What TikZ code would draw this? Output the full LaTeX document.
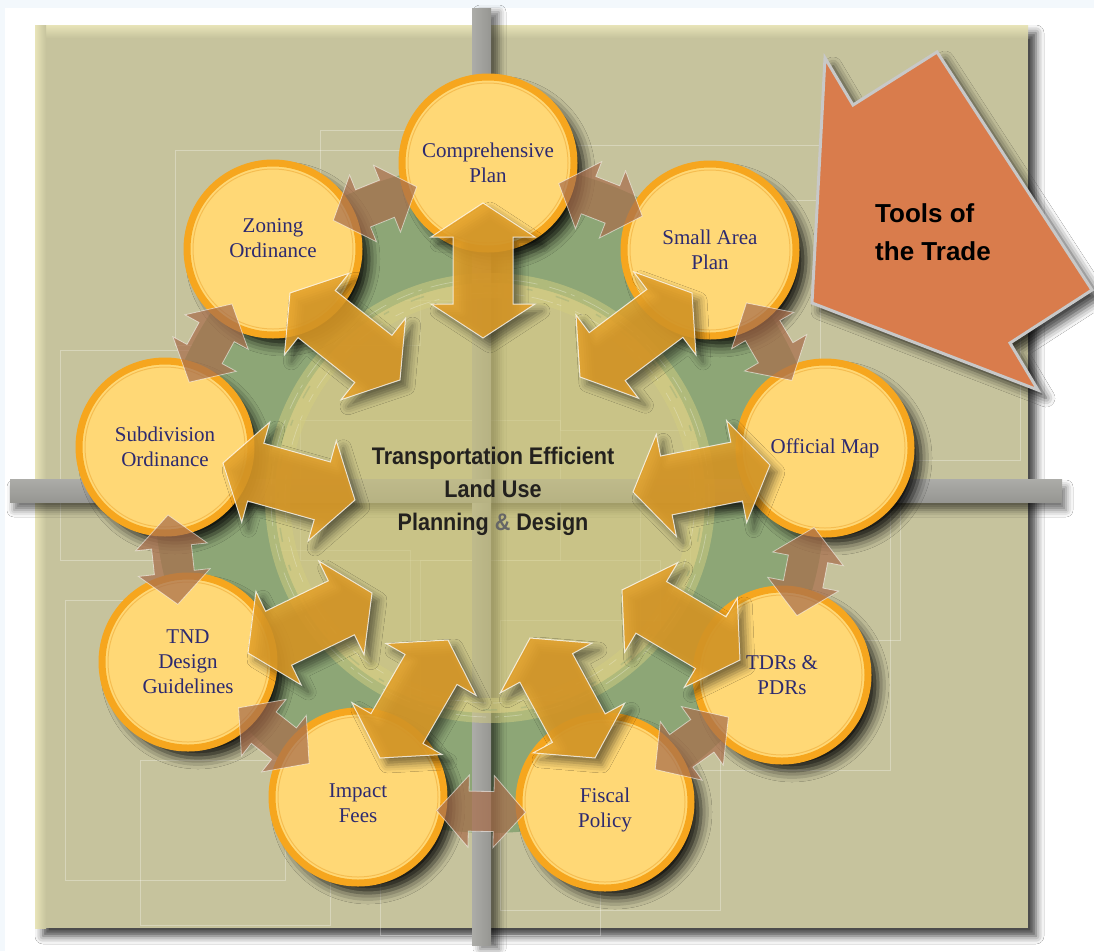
\documentclass[tikz,border=0pt]{standalone}
\usepackage{fontspec}
\setmainfont{Liberation Serif}
\newfontfamily\hdfont[FakeStretch=0.9]{Liberation Sans}
\newfontfamily\toolfont{Liberation Sans}
\usetikzlibrary{calc,shadows.blur}
\definecolor{khaki}{RGB}{198,195,157}
\definecolor{khakilight}{RGB}{232,228,184}
\definecolor{ringgreen}{RGB}{141,166,118}
\definecolor{innerdisk}{RGB}{203,196,122}
\definecolor{brushc}{RGB}{212,206,128}
\definecolor{barlight}{RGB}{172,172,168}
\definecolor{bardark}{RGB}{150,150,146}
\definecolor{circfill}{RGB}{255,216,118}
\definecolor{circedge}{RGB}{246,166,30}
\definecolor{labelc}{RGB}{45,42,112}
\definecolor{bigorange}{RGB}{228,160,40}
\definecolor{brownarr}{RGB}{168,110,76}
\definecolor{toolfill}{RGB}{217,124,76}
\definecolor{tooledge}{RGB}{200,200,200}
\definecolor{pageblue}{RGB}{243,248,252}
\definecolor{txtdark}{RGB}{35,33,30}

\newcommand\dblarrow[6]{%
  \draw[#1] let \p1=($(#3)-(#2)$), \n1={atan2(\y1,\x1)} in
    (#2) -- ($(#2)+(\n1:#4)+(\n1+90:#5)$) -- ($(#2)+(\n1:#4)+(\n1+90:#6)$)
    -- ($(#3)+(\n1+180:#4)+(\n1+90:#6)$) -- ($(#3)+(\n1+180:#4)+(\n1+90:#5)$)
    -- (#3) -- ($(#3)+(\n1+180:#4)+(\n1-90:#5)$) -- ($(#3)+(\n1+180:#4)+(\n1-90:#6)$)
    -- ($(#2)+(\n1:#4)+(\n1-90:#6)$) -- ($(#2)+(\n1:#4)+(\n1-90:#5)$) -- cycle;}

\begin{document}
\begin{tikzpicture}[x=1pt,y=-1pt,
  tool/.style={circle, minimum size=172pt, inner sep=0pt, fill=circfill, draw=circedge,
    line width=7pt, text=labelc, align=center, font=\fontsize{21}{25}\selectfont,
    blur shadow={shadow xshift=10pt,shadow yshift=-10pt,shadow blur radius=11pt,
      shadow opacity=90}},
  bigarrow/.style={fill=bigorange, fill opacity=0.85, draw=white, draw opacity=0.75,
    line width=1pt, line join=miter,
    blur shadow={shadow xshift=7pt,shadow yshift=-7pt,shadow blur radius=8pt,shadow opacity=50}},
  brownarrow/.style={fill=brownarr, fill opacity=0.72, draw=white, draw opacity=0.55,
    line width=0.8pt, line join=miter},
  gridline/.style={draw=white, draw opacity=0.3, line width=0.8pt},
  toolarrow/.style={fill=toolfill, draw=tooledge, line width=3pt, line join=miter,
    blur shadow={shadow xshift=8pt,shadow yshift=-8pt,shadow blur radius=9pt,shadow opacity=75}}]

\useasboundingbox (0,0) rectangle (1094,951);
% page
\fill[white] (0,0) rectangle (1094,951);
\fill[pageblue] (0,0) rectangle (1094,8);
\fill[pageblue] (0,0) rectangle (5,951);

% khaki board
\fill[khaki, blur shadow={shadow xshift=8pt,shadow yshift=-8pt,shadow blur radius=8pt,shadow opacity=75}] (35,25) rectangle (1028,928);
\shade[top color=khakilight, bottom color=khaki] (35,25) rectangle (1028,38);
\shade[left color=khakilight, right color=khaki] (35,25) rectangle (46,928);

% faint grid rectangles
\foreach \ga/\gb/\gc/\gd in {175/150/420/345, 320/130/470/300, 60/350/270/560, 65/600/285/880,
  230/550/410/730, 500/620/720/910, 640/505/890/770, 560/145/820/430, 690/440/900/640,
  380/700/600/935, 740/200/1020/460, 140/760/330/925, 300/420/560/560, 420/560/660/700}
  \draw[gridline] (\ga,\gb) rectangle (\gc,\gd);

% green ring
\fill[ringgreen, even odd rule] (490,498) circle (335) (490,498) circle (215);

% gray cross bars
\shade[top color=barlight, bottom color=bardark,
  blur shadow={shadow xshift=4pt,shadow yshift=-8pt,shadow blur radius=7pt,shadow opacity=55}]
  (10,479) rectangle (1062,502);
\shade[left color=barlight, right color=bardark,
  blur shadow={shadow xshift=8pt,shadow yshift=-4pt,shadow blur radius=7pt,shadow opacity=55}]
  (472,8) rectangle (491,945);
\shade[top color=barlight, bottom color=bardark] (472,479) rectangle (491,502);

% inner disk and brush band
\fill[innerdisk, opacity=0.62] (490,498) circle (215);
\fill[brushc, opacity=0.5, even odd rule] (490,498) circle (225) (490,498) circle (200);
\draw[white, opacity=0.3, line width=0.7pt, dash pattern=on 18pt off 5pt on 4pt off 9pt on 30pt off 12pt] (490,498) circle (219);
\draw[white, opacity=0.25, line width=0.7pt, dash pattern=on 9pt off 7pt on 22pt off 4pt on 5pt off 15pt] (490,498) circle (205);
\draw[ringgreen, opacity=0.35, line width=1.5pt, dash pattern=on 6pt off 24pt on 14pt off 30pt] (490,498) circle (212);

% centre text
\node[inner sep=0pt, align=center, text=txtdark, font=\hdfont\bfseries\fontsize{24}{33}\selectfont]
  (hub) at (493,491) {Transportation Efficient\\Land Use\\Planning {\color{black!60}\&} Design};

% tool circles
\node[tool] (comp) at (488,163) {Comprehensive\\Plan};
\node[tool] (small) at (710,250) {Small Area\\Plan};
\node[tool] (offm) at (825,448) {Official Map};
\node[tool] (tdr) at (782,675) {TDRs \&\\PDRs};
\node[tool] (fisc) at (605,802) {\rule{0pt}{30pt}Fiscal\\Policy};
\node[tool] (imp) at (358,797) {\rule{0pt}{26pt}Impact\\Fees};
\node[tool] (tnd) at (188,662) {TND\\Design\\Guidelines};
\node[tool] (subd) at (165,447) {Subdivision\\Ordinance};
\node[tool] (zon) at (273,249) {Zoning\\Ordinance\\[-4pt]\mbox{}};
\foreach \nm in {comp,small,offm,tdr,fisc,imp,tnd,subd,zon}
  \draw[circedge!80!brown, opacity=0.45, line width=1pt] (\nm.center) circle (80);

% big double arrows (circle <-> centre)
\coordinate (cA) at (483,203);  \coordinate (cB) at (483,338);
\coordinate (sA) at (692,293);  \coordinate (sB) at (580,377);
\coordinate (oA) at (770,465);  \coordinate (oB) at (633,492);
\coordinate (tA) at (740,660);  \coordinate (tB) at (622,590);
\coordinate (fA) at (595,758);  \coordinate (fB) at (530,638);
\coordinate (iA) at (380,758);  \coordinate (iB) at (448,640);
\coordinate (nA) at (248,653);  \coordinate (nB) at (372,593);
\coordinate (dA) at (223,463);  \coordinate (dB) at (355,500);
\coordinate (zA) at (290,293);  \coordinate (zB) at (400,380);
\foreach \w in {c,s,o,t,f,i,n,d,z}
  {\dblarrow{bigarrow}{\w A}{\w B}{34pt}{52pt}{30pt}}

% small brown arrows between neighbouring circles
\foreach \k/\cu/\cv/\mx/\my in {1/comp/zon/374/201, 2/comp/small/602/196, 3/small/offm/772/340,
   4/offm/tdr/808/572, 5/tdr/fisc/693/745, 6/fisc/imp/481/818, 7/imp/tnd/272/738,
   8/tnd/subd/170/560, 9/subd/zon/205/340}
  {\coordinate (m\k) at (\mx,\my);
   \coordinate (u\k) at ($(m\k)!45pt!(\cu.center)$);
   \coordinate (v\k) at ($(m\k)!45pt!(\cv.center)$);
   \dblarrow{brownarrow}{u\k}{v\k}{32pt}{36pt}{20pt}}

% Tools of the Trade arrow
\draw[toolarrow] (825,58) -- (853,105) -- (937,52) -- (1092,290) -- (1010,343)
  -- (1038,390) -- (812,303) -- cycle;
\node[anchor=north west, inner sep=0pt, align=left, text=black,
  font=\toolfont\bfseries\fontsize{26}{38}\selectfont] (tools) at (875,203) {Tools of\\the Trade};
\end{tikzpicture}
\end{document}
